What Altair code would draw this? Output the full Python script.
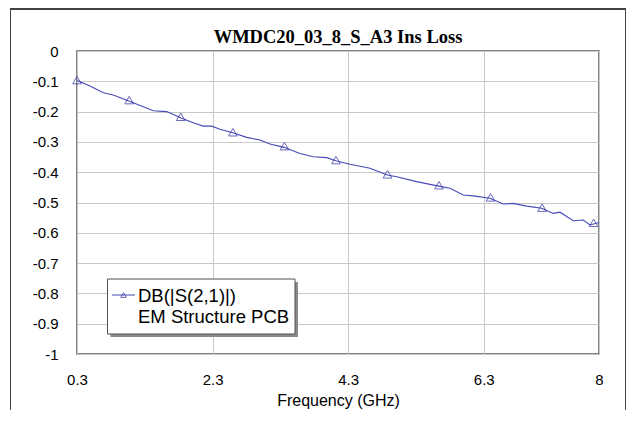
import altair as alt
import pandas as pd

# ---- data ----
freq = [0.3, 0.492, 0.688, 0.835, 1.082, 1.425, 1.623, 1.844, 2.015, 2.163, 2.287,
        2.409, 2.596, 2.803, 2.999, 3.147, 3.353, 3.589, 3.785, 3.983, 4.116, 4.327,
        4.622, 4.877, 5.015, 5.310, 5.635, 5.802, 5.998, 6.145, 6.392, 6.588, 6.735,
        6.933, 7.154, 7.325, 7.424, 7.620, 7.768, 7.867, 8.0]
s21 = [-0.097, -0.1155, -0.1376, -0.145, -0.167, -0.197, -0.200, -0.222, -0.237, -0.248,
       -0.248, -0.258, -0.270, -0.285, -0.294, -0.307, -0.318, -0.338, -0.349, -0.352,
       -0.362, -0.374, -0.387, -0.409, -0.415, -0.431, -0.446, -0.453, -0.475, -0.478,
       -0.486, -0.505, -0.503, -0.512, -0.519, -0.536, -0.532, -0.560, -0.558, -0.574,
       -0.566]
marker_freq = [0.3, 1.07, 1.83, 2.6, 3.36, 4.12, 4.88, 5.64, 6.4, 7.16, 7.92]
marker_s21 = [-0.096, -0.162, -0.217, -0.268, -0.314, -0.360, -0.407, -0.443, -0.483, -0.517, -0.567]

x_ticks = [0.3, 2.3, 4.3, 6.3, 8]
y_ticks = [0, -0.1, -0.2, -0.3, -0.4, -0.5, -0.6, -0.7, -0.8, -0.9, -1]

title_text = "WMDC20_03_8_S_A3 Ins Loss"
x_title = "Frequency (GHz)"
legend_line1 = "DB(|S(2,1)|)"
legend_line2 = "EM Structure PCB"

W, H = 522, 303
LINE = "#4848b8"
MARK = "#2a2aa4"
FRAME = "#404040"

line_df = pd.DataFrame({"f": freq, "v": s21})
mark_df = pd.DataFrame({"f": marker_freq, "v": marker_s21})
one = pd.DataFrame({"a": [0]})

xs = alt.Scale(domain=[0.3, 8], nice=False, zero=False)
ys = alt.Scale(domain=[-1, 0], nice=False, zero=False)

xaxis = alt.Axis(values=x_ticks, labelExpr="'' + datum.value", title=x_title,
                 grid=True, domain=False, ticks=False, labelPadding=18,
                 titlePadding=5, labelFlush=False, labelOverlap=False)
yaxis = alt.Axis(values=y_ticks, labelExpr="'' + datum.value", title=None,
                 grid=True, domain=False, ticks=False, labelPadding=19,
                 labelOverlap=False, tickCount=11)

# outer frame (three visible sides)
frame_top = alt.Chart(one).mark_rule(color=FRAME, strokeWidth=2).encode(
    x=alt.value(-66.5), x2=alt.value(548.5), y=alt.value(-42)
)
frame_left = alt.Chart(one).mark_rule(color=FRAME, strokeWidth=1).encode(
    x=alt.value(-66.5), y=alt.value(-43), y2=alt.value(360)
)
frame_right = alt.Chart(one).mark_rule(color=FRAME, strokeWidth=1).encode(
    x=alt.value(548.5), y=alt.value(-43), y2=alt.value(360)
)

title = alt.Chart(one).mark_text(text=title_text, align="center", baseline="middle",
                                 font="Liberation Serif", fontSize=18.5, fontWeight="bold",
                                 color="black").encode(
    x=alt.value(261), y=alt.value(-14)
)

line = alt.Chart(line_df).mark_line(color=LINE, strokeWidth=1.1, clip=False).encode(
    x=alt.X("f:Q", scale=xs, axis=xaxis),
    y=alt.Y("v:Q", scale=ys, axis=yaxis),
)

markers = alt.Chart(mark_df).mark_point(shape="triangle-up", filled=False, color=MARK,
                                        size=75, strokeWidth=1, clip=False).encode(
    x=alt.X("f:Q", scale=xs, axis=xaxis),
    y=alt.Y("v:Q", scale=ys, axis=yaxis),
)

# legend box (shadow + box + symbol + text)
shadow = alt.Chart(one).mark_rect(fill="#8a8a8a").encode(
    x=alt.value(33.5), x2=alt.value(221), y=alt.value(231), y2=alt.value(286)
)
box = alt.Chart(one).mark_rect(fill="white", stroke="#505050", strokeWidth=1).encode(
    x=alt.value(30.5), x2=alt.value(218), y=alt.value(228), y2=alt.value(283)
)
leg_line = alt.Chart(one).mark_rule(color=LINE, strokeWidth=1).encode(
    x=alt.value(35), x2=alt.value(58), y=alt.value(244)
)
leg_sym = alt.Chart(one).mark_point(shape="triangle-up", filled=False, color=MARK,
                                    size=30, strokeWidth=1).encode(
    x=alt.value(46.5), y=alt.value(244)
)
leg_t1 = alt.Chart(one).mark_text(text=legend_line1, align="left", baseline="middle",
                                  font="Liberation Sans", fontSize=18.5, color="black").encode(
    x=alt.value(61), y=alt.value(244.5)
)
leg_t2 = alt.Chart(one).mark_text(text=legend_line2, align="left", baseline="middle",
                                  font="Liberation Sans", fontSize=18.5, color="black").encode(
    x=alt.value(61), y=alt.value(265.5)
)

chart = alt.layer(line, markers, frame_top, frame_left, frame_right, title,
                  shadow, box, leg_line, leg_sym, leg_t1, leg_t2).properties(
    width=W, height=H,
    autosize=alt.AutoSizeParams(type="none"),
    padding={"left": 69, "top": 43, "right": 27, "bottom": 56},
    background="white",
).configure_view(
    stroke="#5a5a5a", strokeWidth=1.5, fill="white"
).configure_axis(
    labelFont="Liberation Sans", labelFontSize=15, labelColor="black",
    titleFont="Liberation Sans", titleFontSize=16, titleFontWeight="normal", titleColor="black",
    gridColor="#c8c8c8", gridWidth=1, gridOpacity=1,
)

chart.save("out.html", embed_options={"renderer": "svg", "actions": False})
